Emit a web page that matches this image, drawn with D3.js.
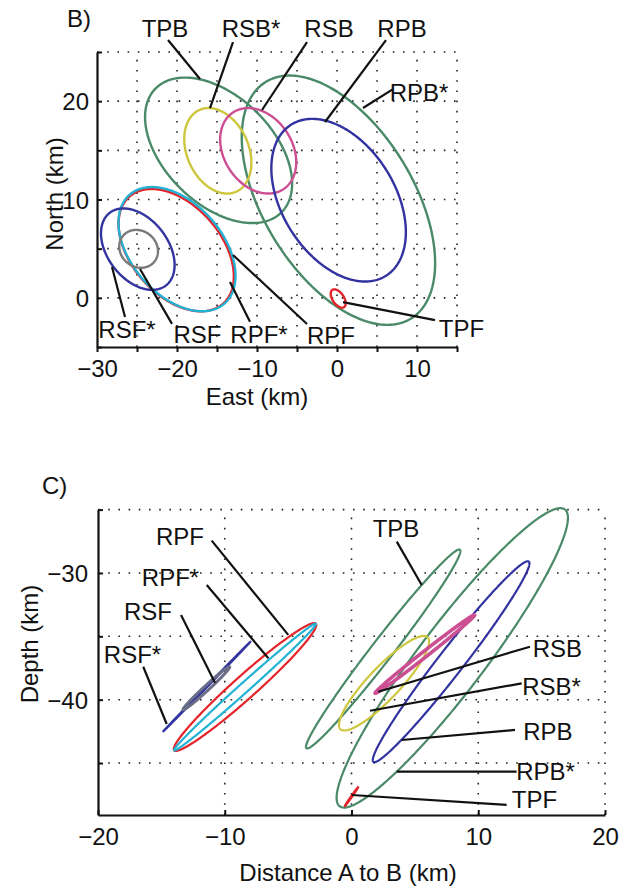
<!DOCTYPE html>
<html>
<head>
<meta charset="utf-8">
<script src="https://cdn.jsdelivr.net/npm/d3@7"></script>
<style>
  body { margin: 0; background: #fff; }
  svg text { font-family: "Liberation Sans", Arial, Helvetica, sans-serif; fill: #111; }
</style>
</head>
<body>
<svg id="fig" width="641" height="889"></svg>
<script>
// ---------- Panel B: map view (East / North, km) ----------
const mapNames    = ["TPB", "RPB*", "RSB*", "RSB", "RPB", "RPF", "RPF*", "RSF*", "RSF", "TPF"];
const mapEast     = [-14.8, 0.18, -14.9, -9.85, 0.2, -20.1, -20.0, -24.9, -24.8, 0.15];
const mapNorth    = [15.0, 9.93, 14.95, 14.95, 9.93, 4.85, 4.95, 4.95, 4.98, -0.07];
const mapMajor    = [10.2, 15.2, 4.83, 5.15, 9.84, 8.1, 8.22, 5.18, 2.45, 1.15];
const mapMinor    = [5.93, 8.7, 3.63, 3.87, 6.5, 5.0, 5.08, 3.39, 1.89, 0.65];
const mapAngleDeg = [-32.2, -47.7, -48.7, -35.6, -43.8, -35.5, -35.5, -37.4, -14.2, -45];
const mapXTicks   = [-30, -25, -20, -15, -10, -5, 0, 5, 10, 15];
const mapYTicks   = [-5, 0, 5, 10, 15, 20, 25];

// ---------- Panel C: cross-section (Distance A to B / Depth, km) ----------
const secNames    = ["TPB", "RPB*", "RPB", "RSB*", "RSB", "TPF", "RPF", "RPF*", "RSF*", "RSF"];
const secDist     = [2.5, 7.95, 7.86, 2.57, 5.79, 0.0, -8.4, -8.4, -11.4, -11.45];
const secDepth    = [-36.0, -36.7, -37.0, -38.7, -36.4, -47.65, -39.0, -39.0, -38.95, -39.1];
const secMajor    = [9.9, 14.7, 10.0, 5.0, 5.0, 0.92, 7.5, 7.5, 4.95, 2.5];
const secMinor    = [0.85, 2.6, 1.0, 1.25, 0.22, 0.04, 0.9, 0.38, 0.04, 0.2];
const secAngleDeg = [52.3, 52.8, 52.2, 46.6, 38.2, 55, 41.8, 41.8, 45.8, 42.6];
const secXTicks   = [-20, -10, 0, 10, 20];
const secYTicks   = [-45, -40, -35, -30, -25];

// ---------- styling ----------
const colorOf = {
  "TPB": "#4a8a68", "RPB*": "#4a8a68", "RPB": "#3232a0",
  "RSB*": "#cdc63e", "RSB": "#cc4f93", "TPF": "#e3242b",
  "RPF": "#e3242b", "RPF*": "#22b2d4", "RSF*": "#3434a0", "RSF": "#7a7a7a"
};
const secColorOf = Object.assign({}, colorOf, { "RSF": "#6a6e88" });

// label placement (data coordinates): text centre/baseline, leader start, leader end
const mapLabels = [
  { name: "TPB",  tx: -21.5,  ty: 26.52, l: [-21.125, 26.22, -17.125, 22.25] },
  { name: "RSB*", tx: -10.75, ty: 26.52, l: [-13.0, 26.01, -15.875, 19.3] },
  { name: "RSB",  tx: -1.0,   ty: 26.52, l: [-3.75, 26.01, -9.375, 19.1] },
  { name: "RPB",  tx: 8.125,  ty: 26.52, l: [6.125, 26.2, -1.5, 17.88] },
  { name: "RPB*", tx: 10.25,  ty: 20.0,  l: [7.0, 21.23, 3.25, 19.3] },
  { name: "TPF",  tx: 15.56,  ty: -4.0,  l: [12.25, -2.26, 0.75, -0.43] },
  { name: "RSF*", tx: -26.25, ty: -4.09, l: [-26.5, -1.95, -28.125, 3.13] },
  { name: "RSF",  tx: -17.44, ty: -4.6,  l: [-20.625, -2.65, -24.625, 2.93] },
  { name: "RPF*", tx: -9.75,  ty: -4.6,  l: [-10.875, -2.42, -13.375, 1.6] },
  { name: "RPF",  tx: -0.75,  ty: -4.7,  l: [-3.75, -2.66, -13.0, 4.35] }
];
const secLabels = [
  { name: "RPF",  tx: -13.53, ty: -27.79, l: [-11.03, -27.45, -4.99, -34.89] },
  { name: "RPF*", tx: -14.28, ty: -31.03, l: [-11.42, -30.95, -6.56, -36.73] },
  { name: "RSF",  tx: -16.06, ty: -33.71, l: [-13.45, -33.31, -10.77, -38.66] },
  { name: "RSF*", tx: -17.28, ty: -37.1,  l: [-16.43, -37.4, -14.58, -41.92] },
  { name: "TPB",  tx: 3.51,   ty: -27.16, l: [3.57, -27.53, 5.54, -30.95] },
  { name: "RSB",  tx: 16.25,  ty: -36.63, l: [14.08, -35.82, 2.11, -39.37] },
  { name: "RSB*", tx: 15.78,  ty: -39.63, l: [13.43, -38.71, 1.46, -40.87] },
  { name: "RPB",  tx: 15.5,   ty: -43.18, l: [12.9, -42.39, 3.96, -43.18] },
  { name: "RPB*", tx: 15.31,  ty: -46.34, l: [13.03, -45.68, 3.57, -45.68] },
  { name: "TPF",  tx: 14.44,  ty: -48.55, l: [12.24, -48.3, 0.02, -47.52] }
];

const FONT = 24;
const svg = d3.select("#fig");
const fmt = d => (d < 0 ? "\u2212" + Math.abs(d) : String(d));

function ellipsePoints(cx, cy, a, b, angDeg, n = 360) {
  const t = angDeg * Math.PI / 180, c = Math.cos(t), s = Math.sin(t);
  return d3.range(n + 1).map(i => {
    const p = 2 * Math.PI * i / n;
    const u = a * Math.cos(p), v = b * Math.sin(p);
    return [cx + u * c - v * s, cy + u * s + v * c];
  });
}

function drawPanel(cfg) {
  const { x, y, gridX, gridY } = cfg;
  const g = svg.append("g");

  // dotted grid, including top and right frame
  const grid = g.append("g").attr("stroke", "#222").attr("stroke-width", 1.6)
    .attr("stroke-dasharray", "1.6 8.6").attr("fill", "none");
  grid.selectAll("line.v").data(gridX).join("line")
    .attr("x1", d => x(d)).attr("x2", d => x(d))
    .attr("y1", y.range()[0]).attr("y2", y.range()[1]);
  grid.selectAll("line.h").data(gridY).join("line")
    .attr("x1", x.range()[0]).attr("x2", x.range()[1])
    .attr("y1", d => y(d)).attr("y2", d => y(d));

  // axes
  const xa = g.append("g").attr("transform", `translate(0,${y.range()[0]})`)
    .call(d3.axisBottom(x).tickValues(cfg.xTicks)
      .tickFormat(d => (d % 10 === 0 ? fmt(d) : "")).tickSize(cfg.xTickSize).tickSizeOuter(0));
  const ya = g.append("g").attr("transform", `translate(${x.range()[0]},0)`)
    .call(d3.axisLeft(y).tickValues(cfg.yTicks)
      .tickFormat(d => (d % 10 === 0 ? fmt(d) : "")).tickSize(-5).tickSizeOuter(0).tickPadding(cfg.yPad));
  [xa, ya].forEach(a => {
    a.attr("font-family", null).attr("font-size", null);
    a.select(".domain").attr("stroke", "#111").attr("stroke-width", 2.2);
    a.selectAll(".tick line").attr("stroke", "#111").attr("stroke-width", 2);
    a.selectAll("text").attr("font-size", FONT).attr("fill", "#111");
  });
  xa.selectAll("text").attr("dy", null).attr("y", cfg.xLabelDrop);
  ya.selectAll("text").attr("dy", "0.36em");

  // error ellipses
  const line = d3.line().x(d => x(d[0])).y(d => y(d[1]));
  const el = g.append("g").attr("fill", "none");
  cfg.names.forEach((nm, i) => {
    el.append("path")
      .attr("d", line(ellipsePoints(cfg.cx[i], cfg.cy[i], cfg.a[i], cfg.b[i], cfg.ang[i])))
      .attr("stroke", cfg.colors[nm])
      .attr("stroke-width", cfg.width(nm))
      .attr("stroke-linejoin", "round");
  });

  // labels with leader lines
  const lab = g.append("g");
  cfg.labels.forEach(L => {
    lab.append("line")
      .attr("x1", x(L.l[0])).attr("y1", y(L.l[1]))
      .attr("x2", x(L.l[2])).attr("y2", y(L.l[3]))
      .attr("stroke", "#111").attr("stroke-width", 2.2);
    lab.append("text").attr("x", x(L.tx)).attr("y", y(L.ty))
      .attr("text-anchor", "middle").attr("font-size", FONT).text(L.name);
  });
  return g;
}

// ---------- Panel B ----------
const xB = d3.scaleLinear().domain([-30, 15]).range([97, 457]);
const yB = d3.scaleLinear().domain([-5, 25]).range([347, 52]);
drawPanel({
  x: xB, y: yB,
  gridX: [-25, -20, -15, -10, -5, 0, 5, 10, 15],
  gridY: [0, 5, 10, 15, 20, 25],
  xTicks: mapXTicks, yTicks: mapYTicks, xTickSize: 5, yPad: 8, xLabelDrop: 30,
  names: mapNames, cx: mapEast, cy: mapNorth, a: mapMajor, b: mapMinor, ang: mapAngleDeg,
  colors: colorOf, width: () => 2.4, labels: mapLabels
});
svg.append("text").attr("x", 67).attr("y", 27).attr("font-size", FONT).text("B)");
svg.append("text").attr("x", 257).attr("y", 405).attr("text-anchor", "middle")
  .attr("font-size", FONT).text("East (km)");
svg.append("text").attr("transform", "translate(63,194) rotate(-90)")
  .attr("text-anchor", "middle").attr("font-size", FONT).text("North (km)");

// ---------- Panel C ----------
const xC = d3.scaleLinear().domain([-20, 20]).range([98, 605]);
const yC = d3.scaleLinear().domain([-49.1, -25]).range([815, 509.6]);
drawPanel({
  x: xC, y: yC,
  gridX: [-10, 0, 10, 20],
  gridY: [-45, -40, -35, -30, -25],
  xTicks: secXTicks, yTicks: secYTicks, xTickSize: -5, yPad: 10, xLabelDrop: 30,
  names: secNames, cx: secDist, cy: secDepth, a: secMajor, b: secMinor, ang: secAngleDeg,
  colors: secColorOf, width: nm => (nm === "RSB" ? 3.6 : nm === "RSF" ? 3 : 2.2), labels: secLabels
});
svg.append("text").attr("x", 42).attr("y", 494).attr("font-size", FONT).text("C)");
svg.append("text").attr("x", 348).attr("y", 881).attr("text-anchor", "middle")
  .attr("font-size", FONT).text("Distance A to B (km)");
svg.append("text").attr("transform", "translate(38,644) rotate(-90)")
  .attr("text-anchor", "middle").attr("font-size", FONT).text("Depth (km)");
</script>
</body>
</html>
